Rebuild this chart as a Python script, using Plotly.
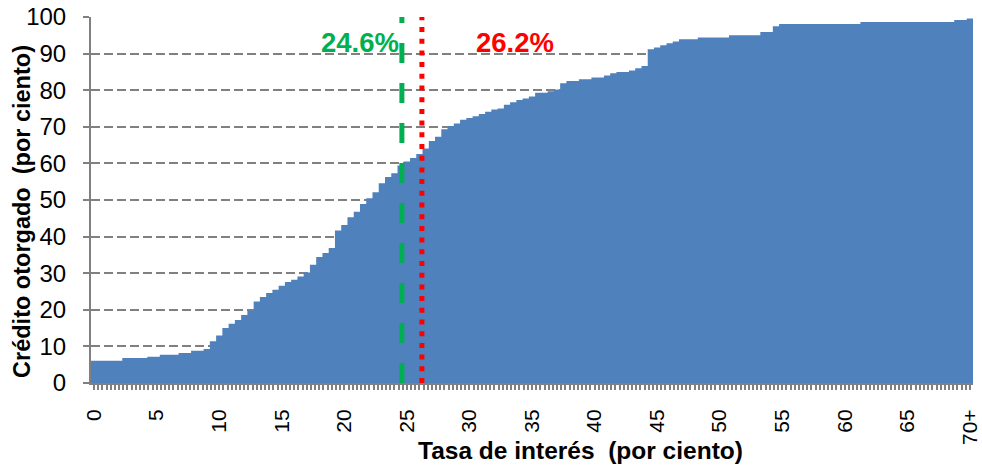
import plotly.graph_objects as go

# Interest-rate bins (per cent), 0.5-point steps; last bin is "70+"
rates = [i / 2 for i in range(141)]
bin_width = 0.5

# Cumulative credit granted (per cent) for each bin
credit_pct = (
    [6.1] * 5 + [6.8] * 4 + [7.2] * 2 + [7.7] * 3 + [8.2] * 2 + [8.8] * 2 +
    [9.3, 11.4, 13.0, 15.0, 16.2, 17.2, 18.6, 19.8, 22.3, 23.5,
     24.6, 25.5, 26.6, 27.6, 28.2, 29.1, 30.2, 32.3, 34.4, 35.5,
     36.9, 41.7, 43.2, 45.3, 46.8, 48.9, 50.5, 52.1, 54.6, 56.3,
     57.3, 59.4, 60.5, 61.5, 62.6, 64.1, 66.1, 67.3, 69.3, 70.2,
     70.9, 71.9, 72.4, 72.9, 73.5, 74.1, 74.7, 75.0, 76.0, 76.7,
     77.3, 77.7, 78.3, 79.3, 79.3, 79.7, 80.2, 81.9, 82.5, 82.5,
     83.0, 83.0, 83.5, 83.5, 84.0, 84.6, 85.0, 85.0, 85.4, 86.0,
     86.6, 91.2, 91.7, 92.3, 92.8, 93.3] +
    [93.9] * 3 + [94.4] * 5 + [95.0] * 5 + [95.9] * 2 + [97.5] +
    [98.1] * 13 + [98.6] * 15 + [99.2] * 2 + [99.6]
)
assert len(credit_pct) == len(rates)

tick_vals = [0, 5, 10, 15, 20, 25, 30, 35, 40, 45, 50, 55, 60, 65, 70]
tick_text = ["0", "5", "10", "15", "20", "25", "30", "35", "40", "45",
             "50", "55", "60", "65", "70+"]
y_ticks = [0, 10, 20, 30, 40, 50, 60, 70, 80, 90, 100]

rate_green = 24.6
rate_red = 26.2
label_green = "24.6%"
label_red = "26.2%"

FONT = "Arial, Liberation Sans, sans-serif"
BAR = "#4F81BD"
GRAY = "#808080"

# adjacent 0.5-wide bars drawn as one stepped filled outline (no seams)
step_x = [r - bin_width / 2 for r in rates] + [rates[-1] + bin_width / 2]
step_y = credit_pct + [credit_pct[-1]]

fig = go.Figure()
fig.add_trace(go.Scatter(
    x=step_x, y=step_y, mode="lines", line=dict(shape="hv", width=0, color=BAR),
    fill="tozeroy", fillcolor=BAR, hoverinfo="x+y", showlegend=False,
))

fig.add_shape(type="line", xref="x", yref="paper", x0=rate_green, x1=rate_green,
              y0=0, y1=1.0, line=dict(color="#00B050", width=5, dash="20px,20px"),
              layer="above")
fig.add_shape(type="line", xref="x", yref="paper", x0=rate_red, x1=rate_red,
              y0=0, y1=1.0, line=dict(color="#FF0000", width=5, dash="5px,6.7px"),
              layer="above")

fig.add_annotation(x=rate_green, y=0.931, xref="x", yref="paper", text=label_green,
                   showarrow=False, xanchor="right", yanchor="middle", xshift=-1,
                   font=dict(family=FONT, size=27.5, color="#00B050", weight="bold"))
fig.add_annotation(x=rate_red, y=0.931, xref="x", yref="paper", text=label_red,
                   showarrow=False, xanchor="left", yanchor="middle", xshift=52,
                   font=dict(family=FONT, size=27.5, color="#FF0000", weight="bold"))

fig.add_annotation(x=0.555, y=-0.184, xref="paper", yref="paper",
                   text="Tasa de interés  (por ciento)", showarrow=False,
                   xanchor="center", yanchor="middle",
                   font=dict(family=FONT, size=24.5, color="black", weight="bold"))
fig.add_annotation(x=-0.078, y=0.468, xref="paper", yref="paper",
                   text="Crédito otorgado  (por ciento)", showarrow=False,
                   textangle=-90, xanchor="center", yanchor="middle",
                   font=dict(family=FONT, size=23.5, color="black", weight="bold"))

fig.update_layout(
    width=982, height=466,
    margin=dict(l=91, r=9, t=17, b=83, autoexpand=False),
    paper_bgcolor="white", plot_bgcolor="white",
    font=dict(family=FONT, size=21, color="black"),
    xaxis=dict(
        range=[-0.25, 70.25], tickmode="array", tickvals=tick_vals, ticktext=tick_text,
        tickangle=-90, ticks="outside", ticklen=5, tickcolor=GRAY, tickwidth=1.5,
        ticklabelstandoff=11, automargin=False,
        minor=dict(dtick=1 / 3, tick0=0, ticks="outside", ticklen=5, tickcolor=GRAY,
                   tickwidth=1.5, showgrid=False),
        showline=True, linecolor=GRAY, linewidth=2, showgrid=False, zeroline=False,
        tickfont=dict(family=FONT, size=21, color="black"),
    ),
    yaxis=dict(
        range=[0, 100], tickmode="array", tickvals=y_ticks,
        ticks="outside", ticklen=6, tickcolor=GRAY, tickwidth=1.5,
        ticklabelstandoff=12, automargin=False,
        showline=True, linecolor=GRAY, linewidth=2,
        showgrid=True, gridcolor=GRAY, gridwidth=2, griddash="9px,4px",
        zeroline=False,
        tickfont=dict(family=FONT, size=24, color="black"),
    ),
)

fig.write_html("out.html", config={"displayModeBar": False},
               post_script="document.body.style.margin='0px';"
                           "document.body.style.overflow='hidden';")
